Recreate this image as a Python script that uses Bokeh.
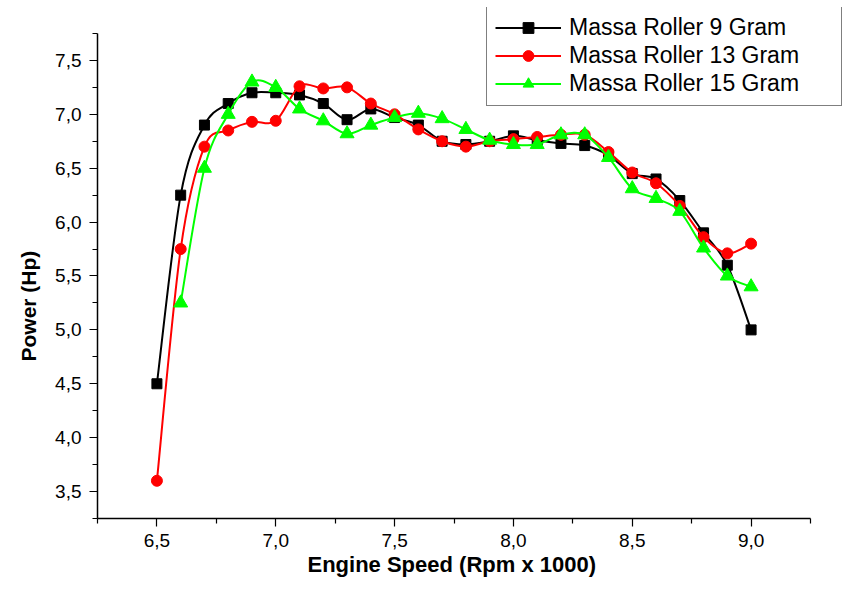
from bokeh.plotting import figure
from bokeh.models import (ColumnDataSource, Range1d, FixedTicker, CustomJSTickFormatter,
                          Legend, LegendItem, Title)
from bokeh.embed import file_html
from bokeh.resources import INLINE

# ---- data ----
speed = [6.5, 6.6, 6.7, 6.8, 6.9, 7.0, 7.1, 7.2, 7.3, 7.4, 7.5, 7.6, 7.7,
         7.8, 7.9, 8.0, 8.1, 8.2, 8.3, 8.4, 8.5, 8.6, 8.7, 8.8, 8.9, 9.0]
power_9g = [4.5, 6.25, 6.9, 7.1, 7.2, 7.2, 7.18, 7.1, 6.95, 7.05, 6.97, 6.9, 6.75,
            6.72, 6.75, 6.8, 6.76, 6.73, 6.71, 6.62, 6.45, 6.4, 6.2, 5.9, 5.6, 5.0]
power_13g = [3.6, 5.75, 6.7, 6.85, 6.93, 6.94, 7.26, 7.24, 7.25, 7.1, 7.0, 6.86, 6.75,
             6.7, 6.75, 6.77, 6.79, 6.81, 6.81, 6.65, 6.46, 6.36, 6.15, 5.86, 5.71, 5.8]
speed_15g = speed[1:]
power_15g = [5.25, 6.5, 7.0, 7.3, 7.25, 7.05, 6.94, 6.82, 6.9, 6.97, 7.01, 6.96,
             6.86, 6.76, 6.72, 6.72, 6.81, 6.81, 6.6, 6.31, 6.22, 6.1, 5.76, 5.5, 5.4]

labels = ["Massa Roller 9 Gram", "Massa Roller 13 Gram", "Massa Roller 15 Gram"]
x_title = "Engine Speed (Rpm x 1000)"
y_title = "Power (Hp)"
x_major = [6.5, 7.0, 7.5, 8.0, 8.5, 9.0]
x_minor = [6.25, 6.75, 7.25, 7.75, 8.25, 8.75, 9.25]
y_major = [3.5, 4.0, 4.5, 5.0, 5.5, 6.0, 6.5, 7.0, 7.5]
y_minor = [3.25, 3.75, 4.25, 4.75, 5.25, 5.75, 6.25, 6.75, 7.25, 7.75]
x_axis_span = (6.25, 9.25)
y_axis_span = (3.25, 7.75)

FONT = "Liberation Sans"


def smooth_segments(xs, ys):
    """Catmull-Rom style Bezier segments between consecutive data points."""
    n = len(xs)
    d = dict(x0=[], y0=[], x1=[], y1=[], cx0=[], cy0=[], cx1=[], cy1=[])
    for i in range(n - 1):
        a = i - 1 if i > 0 else i
        b = i + 2 if i + 2 < n else i + 1
        d["x0"].append(xs[i]); d["y0"].append(ys[i])
        d["x1"].append(xs[i + 1]); d["y1"].append(ys[i + 1])
        d["cx0"].append(xs[i] + (xs[i + 1] - xs[a]) / 6.0)
        d["cy0"].append(ys[i] + (ys[i + 1] - ys[a]) / 6.0)
        d["cx1"].append(xs[i + 1] - (xs[b] - xs[i]) / 6.0)
        d["cy1"].append(ys[i + 1] - (ys[b] - ys[i]) / 6.0)
    return ColumnDataSource(d)


# frame extended to top/right so the legend box fits inside it;
# the axes themselves are bounded to the reference axis spans
p = figure(width=842, height=580, output_backend="svg", toolbar_location=None,
           x_range=Range1d(6.25, 9.3846), y_range=Range1d(3.25, 7.991),
           min_border_left=97, min_border_right=0, min_border_top=7,
           min_border_bottom=62)
p.outline_line_color = None
p.xgrid.visible = False
p.ygrid.visible = False
p.background_fill_color = "white"
p.border_fill_color = "white"

fmt = CustomJSTickFormatter(code="return tick.toFixed(1).replace('.', ',');")
for ax, major, minor, span in ((p.xaxis[0], x_major, x_minor, x_axis_span),
                               (p.yaxis[0], y_major, y_minor, y_axis_span)):
    ax.ticker = FixedTicker(ticks=major, minor_ticks=minor)
    ax.formatter = fmt
    ax.bounds = span
    ax.axis_line_color = "black"
    ax.axis_line_width = 1.5
    ax.major_tick_line_color = "black"
    ax.minor_tick_line_color = "black"
    ax.major_tick_line_width = 1.2
    ax.minor_tick_line_width = 1.2
    ax.major_tick_in = 0
    ax.minor_tick_in = 0
    ax.major_tick_out = 8
    ax.minor_tick_out = 5
    ax.major_label_text_font = FONT
    ax.major_label_text_font_size = "19px"
    ax.major_label_text_color = "black"

p.xaxis.major_label_standoff = 7
p.yaxis.major_label_standoff = 8

xt = Title(text=x_title, align="left", offset=210, standoff=0,
           text_font=FONT, text_font_size="22px", text_font_style="bold",
           text_color="black")
p.add_layout(xt, "below")
yt = Title(text=y_title, align="left", offset=157, standoff=26,
           text_font=FONT, text_font_size="21px", text_font_style="bold",
           text_color="black")
p.add_layout(yt, "left")

series = [
    (speed, power_9g, "black", "square", 10),
    (speed, power_13g, "#ff0000", "circle", 11),
    (speed_15g, power_15g, "#00ff00", "triangle", 14),
]
items = []
for (xs, ys, col, mk, sz), lab in zip(series, labels):
    src = smooth_segments(xs, ys)
    r_line = p.bezier(x0="x0", y0="y0", x1="x1", y1="y1", cx0="cx0", cy0="cy0",
                      cx1="cx1", cy1="cy1", source=src, line_color=col, line_width=2)
    r_pts = p.scatter(x=xs, y=ys, marker=mk, size=sz, fill_color=col, line_color=col)
    items.append(LegendItem(label=lab, renderers=[r_line, r_pts]))

legend = Legend(items=items, location=(389, 412))
legend.label_text_font = FONT
legend.label_text_font_size = "23px"
legend.label_text_color = "black"
legend.glyph_width = 66
legend.glyph_height = 27
legend.label_height = 27
legend.label_width = 264
legend.label_standoff = 8
legend.spacing = 1
legend.padding = 8
legend.margin = 0
legend.border_line_color = "black"
legend.border_line_width = 1
legend.background_fill_color = "white"
legend.background_fill_alpha = 1.0
p.add_layout(legend, "center")

open("out.html", "w").write(file_html(p, INLINE))
